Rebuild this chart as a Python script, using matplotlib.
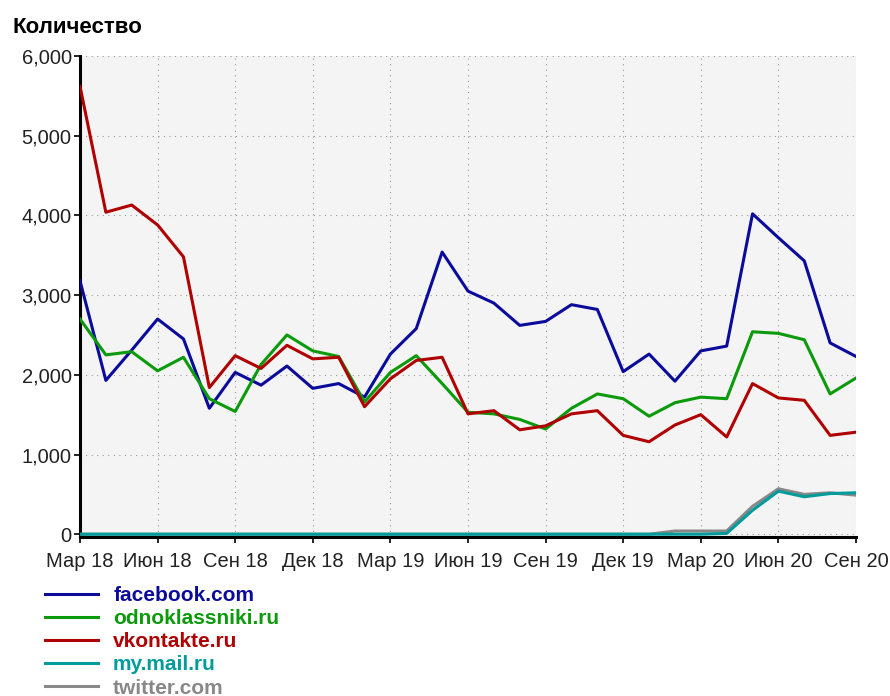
import matplotlib
matplotlib.use("Agg")
import matplotlib.pyplot as plt
from matplotlib.ticker import StrMethodFormatter

plt.rcParams['font.family'] = ['Liberation Sans', 'DejaVu Sans']

# months Mar 2018 .. Sep 2020
tick_labels = ["Мар 18", "Июн 18", "Сен 18", "Дек 18", "Мар 19", "Июн 19",
               "Сен 19", "Дек 19", "Мар 20", "Июн 20", "Сен 20"]
months = list(range(31))

facebook = [3180, 1930, 2310, 2700, 2450, 1580, 2030, 1870, 2110, 1830, 1890,
            1720, 2260, 2580, 3540, 3050, 2900, 2620, 2670, 2880, 2820, 2040,
            2260, 1920, 2300, 2360, 4020, 3720, 3430, 2400, 2230]
odnoklassniki = [2700, 2250, 2290, 2050, 2220, 1700, 1540, 2130, 2500, 2300, 2230,
                 1660, 2030, 2240, 1890, 1530, 1510, 1440, 1320, 1580, 1760, 1700,
                 1480, 1650, 1720, 1700, 2540, 2520, 2440, 1760, 1960]
vkontakte = [5620, 4040, 4130, 3880, 3480, 1840, 2240, 2080, 2370, 2200, 2220,
             1600, 1950, 2180, 2220, 1510, 1550, 1310, 1360, 1510, 1550, 1240,
             1160, 1370, 1500, 1220, 1890, 1710, 1680, 1240, 1280]
mymail = [0, 0, 0, 0, 0, 0, 0, 0, 0, 0, 0, 0, 0, 0, 0, 0, 0, 0, 0, 0, 0, 0,
          0, 0, 0, 10, 300, 540, 470, 510, 520]
twitter = [0, 0, 0, 0, 0, 0, 0, 0, 0, 0, 0, 0, 0, 0, 0, 0, 0, 0, 0, 0, 0, 0,
           0, 40, 40, 40, 350, 570, 500, 520, 490]

series = [
    ("facebook.com", facebook, "#0b0b9b", 4),
    ("odnoklassniki.ru", odnoklassniki, "#0a9a0a", 4),
    ("vkontakte.ru", vkontakte, "#b00000", 4),
    ("my.mail.ru", mymail, "#009b9b", 3),
    ("twitter.com", twitter, "#888888", 2),
]

fig = plt.figure(figsize=(8.9, 6.96), dpi=100)
ax = fig.add_axes([80/890, 1 - 537/696, (856 - 80)/890, (537 - 56)/696])
ax.set_facecolor("#f4f4f4")

handles = []
for name, vals, color, z in series:
    ln, = ax.plot(months, vals, color=color, lw=2.2, label=name, zorder=z)
    handles.append(ln)

ax.set_xlim(0, 30)
ax.set_ylim(-35, 6000)
ax.set_xticks(months[::3])
ax.set_xticklabels(tick_labels)
ax.set_yticks([0, 1000, 2000, 3000, 4000, 5000, 6000])
ax.yaxis.set_major_formatter(StrMethodFormatter('{x:,.0f}'))

for s in ["top", "right"]:
    ax.spines[s].set_visible(False)
for s in ["left", "bottom"]:
    ax.spines[s].set_linewidth(2.2)
    ax.spines[s].set_zorder(1)

ax.tick_params(axis="both", length=4, width=1.2, color="black",
               labelsize=14.5, labelcolor="#222222")
ax.tick_params(axis="x", pad=7)
ax.tick_params(axis="y", pad=2)
ax.grid(True, color="#999999", linestyle=(0, (1, 4)), lw=0.8)
ax.set_axisbelow(True)

fig.text(12/890, 1 - 33/696, "Количество", fontsize=16, fontweight="bold",
         va="baseline", ha="left")

fig.legend(handles, [h.get_label() for h in handles], loc="upper left",
           bbox_to_anchor=(45/890, 1 - 586/696), frameon=False,
           labelcolor="linecolor", prop={"weight": "bold", "size": 15},
           handlelength=2.55, handletextpad=0.72, labelspacing=0.2,
           borderpad=0, borderaxespad=0)

fig.savefig("out.png", dpi=100)
